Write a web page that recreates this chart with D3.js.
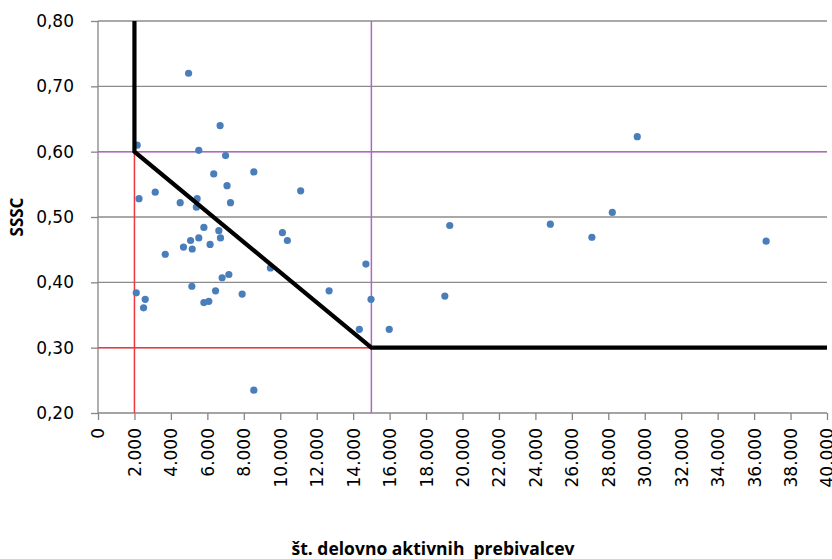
<!DOCTYPE html>
<html>
<head>
<meta charset="utf-8">
<script src="https://cdn.jsdelivr.net/npm/d3@7"></script>
<style>
html,body{margin:0;padding:0;background:#fff;}
svg{display:block;}
</style>
</head>
<body>
<svg id="chart" width="832" height="559"></svg>
<script>
// ---- data ----
const xValues = [4970, 6700, 2150, 5530, 7000, 6350, 8550, 7080, 11120, 3140, 2250, 4510, 5440, 5400, 7270,
  5810, 6630, 6720, 10120, 10390, 5080, 5530, 4690, 5170, 6150, 3690, 9460, 14700, 6810, 7180,
  5150, 2100, 2590, 2500, 5810, 6080, 6450, 7910, 12680, 14980, 14340, 15980, 8550,
  19300, 19030, 24820, 27100, 28220, 29590, 36660];
const yValues = [0.720, 0.640, 0.610, 0.602, 0.594, 0.566, 0.569, 0.548, 0.540, 0.538, 0.528, 0.522, 0.528, 0.515, 0.522,
  0.484, 0.479, 0.468, 0.476, 0.464, 0.464, 0.468, 0.454, 0.451, 0.458, 0.443, 0.422, 0.428, 0.407, 0.412,
  0.394, 0.384, 0.374, 0.361, 0.369, 0.371, 0.387, 0.382, 0.387, 0.374, 0.328, 0.328, 0.235,
  0.487, 0.379, 0.489, 0.469, 0.507, 0.623, 0.463];
const boundaryX = [2000, 2000, 15000, 40000];
const boundaryY = [0.80, 0.60, 0.30, 0.30];
const xTicks = [0,2000,4000,6000,8000,10000,12000,14000,16000,18000,20000,22000,24000,26000,28000,30000,32000,34000,36000,38000,40000];
const yTicks = [0.20,0.30,0.40,0.50,0.60,0.70,0.80];
const xTitle = "št. delovno aktivnih  prebivalcev";
const yTitle = "SSSC";

// ---- layout ----
const svg = d3.select("#chart");
const x = d3.scaleLinear().domain([0, 40000]).range([98, 827]);
const y = d3.scaleLinear().domain([0.2, 0.8]).range([413, 21]);
const fmtX = v => v === 0 ? "0" : d3.format(",")(v).replace(/,/g, ".");
const fmtY = v => v.toFixed(2).replace(".", ",");
const axisColor = "#868686";
const gridColor = "#8c8c8c";

// gridlines
svg.append("g").selectAll("line").data(yTicks.filter(t => t > 0.2)).join("line")
  .attr("x1", x(0)).attr("x2", x(40000))
  .attr("y1", d => y(d)).attr("y2", d => y(d))
  .attr("stroke", gridColor).attr("stroke-width", 1.3);

// axes
const yAxis = svg.append("g").attr("transform", `translate(${x(0)},0)`)
  .call(d3.axisLeft(y).tickValues(yTicks).tickFormat(fmtY).tickSize(7).tickPadding(17));
const xAxis = svg.append("g").attr("transform", `translate(0,${y(0.2)})`)
  .call(d3.axisBottom(x).tickValues(xTicks).tickFormat(fmtX).tickSize(7));
[yAxis, xAxis].forEach(g => {
  g.select(".domain").attr("stroke", axisColor).attr("stroke-width", 1.3);
  g.selectAll(".tick line").attr("stroke", axisColor).attr("stroke-width", 1.3);
  g.selectAll(".tick text").attr("fill", "#000").attr("font-family", "DejaVu Sans").attr("font-size", 17);
});
yAxis.select(".domain").attr("d", `M0,${y(0.8)}V${y(0.2)}`);
xAxis.select(".domain").attr("d", `M${x(0)},0H${x(40000)}`);
xAxis.selectAll(".tick text")
  .attr("transform", "rotate(-90)")
  .attr("text-anchor", "end")
  .attr("x", -15).attr("y", 0).attr("dy", "0.35em");

// reference lines
const refs = [
  {x1: 2000, x2: 2000, y1: 0.2, y2: 0.6, c: "#f0383c"},
  {x1: 0, x2: 15000, y1: 0.3, y2: 0.3, c: "#f0383c"},
  {x1: 15000, x2: 15000, y1: 0.2, y2: 0.8, c: "#b365c6"},
  {x1: 0, x2: 40000, y1: 0.6, y2: 0.6, c: "#b365c6"}
];
svg.append("g").selectAll("line").data(refs).join("line")
  .attr("x1", d => x(d.x1)).attr("x2", d => x(d.x2))
  .attr("y1", d => y(d.y1)).attr("y2", d => y(d.y2))
  .attr("stroke", d => d.c).attr("stroke-width", 1.5);

// points
svg.append("g").selectAll("circle").data(xValues.map((v, i) => [v, yValues[i]])).join("circle")
  .attr("cx", d => x(d[0])).attr("cy", d => y(d[1])).attr("r", 3.6)
  .attr("fill", "#4a7ebb");

// boundary line
svg.append("path")
  .datum(boundaryX.map((v, i) => [v, boundaryY[i]]))
  .attr("d", d3.line().x(d => x(d[0])).y(d => y(d[1])))
  .attr("fill", "none").attr("stroke", "#000").attr("stroke-width", 4.2)
  .attr("stroke-linejoin", "miter");

// titles
svg.append("text").attr("x", 433).attr("y", 555).attr("text-anchor", "middle")
  .attr("font-family", "Open Sans").attr("font-weight", "bold").attr("font-size", 17.5)
  .attr("xml:space", "preserve").style("white-space", "pre")
  .text(xTitle);
svg.append("text").attr("transform", "translate(23,217) rotate(-90)").attr("text-anchor", "middle")
  .attr("font-family", "Open Sans").attr("font-weight", "bold").attr("font-size", 17)
  .text(yTitle);
</script>
</body>
</html>
